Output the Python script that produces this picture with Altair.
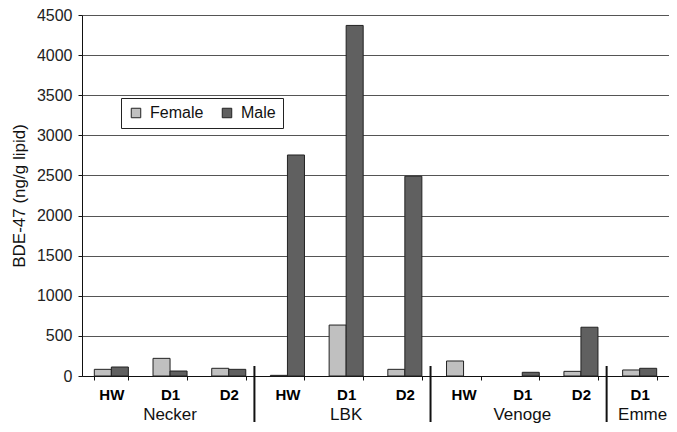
import altair as alt
import pandas as pd

# ---- data ----
groups = ["Necker", "Necker", "Necker", "LBK", "LBK", "LBK", "Venoge", "Venoge", "Venoge", "Emme"]
sites = ["HW", "D1", "D2", "HW", "D1", "D2", "HW", "D1", "D2", "D1"]
female = [83, 220, 96, 8, 635, 83, 187, None, 58, 75]
male = [112, 62, 83, 2755, 4370, 2490, None, 46, 608, 96]
sexes = ["Female", "Male"]
sex_colors = ["#c0c0c0", "#606060"]
group_names = ["Necker", "LBK", "Venoge", "Emme"]
group_label_site = ["D1", "D1", "D1", "D1"]
separator_before = ["LBK|HW", "Venoge|HW", "Emme|D1"]
y_ticks = [0, 500, 1000, 1500, 2000, 2500, 3000, 3500, 4000, 4500]

cats = [f"{g}|{s}" for g, s in zip(groups, sites)]
rows = []
for c, f, m in zip(cats, female, male):
    rows.append({"cat": c, "sex": "Female", "value": f})
    rows.append({"cat": c, "sex": "Male", "value": m})
bars_df = pd.DataFrame(rows)
glab_df = pd.DataFrame({"cat": [f"{g}|{s}" for g, s in zip(group_names, group_label_site)],
                        "name": group_names})
sep_df = pd.DataFrame({"cat": separator_before})

FONT = "Liberation Sans"
W, H = 587, 361

xscale = alt.Scale(domain=cats, paddingInner=0.42, paddingOuter=0.21)

bars = alt.Chart(bars_df).mark_bar(stroke="#222", strokeWidth=1).encode(
    x=alt.X("cat:N", scale=xscale, sort=cats,
            axis=alt.Axis(title=None, labelExpr="split(datum.label, '|')[1]",
                          labelFont=FONT, labelFontSize=15, labelFontWeight="bold",
                          labelColor="#000", labelAngle=0, labelPadding=7,
                          tickBand="extent", tickSize=4, tickColor="#111",
                          domainColor="#111", grid=False)),
    xOffset=alt.XOffset("sex:N", sort=sexes,
                        scale=alt.Scale(paddingInner=0, paddingOuter=0)),
    y=alt.Y("value:Q", scale=alt.Scale(domain=[0, 4500], nice=False),
            axis=alt.Axis(title="BDE-47 (ng/g lipid)", values=y_ticks, format="d",
                          titleFont=FONT, titleFontSize=17, titleFontWeight="normal",
                          titleColor="#111", titleAngle=270, titleAlign="center",
                          titleBaseline="middle", titleX=-63, titleY=H / 2,
                          labelFont=FONT, labelFontSize=16, labelColor="#222",
                          tickSize=4, tickColor="#111", domainColor="#111",
                          labelPadding=6, grid=True, gridColor="#555", gridWidth=1)),
    color=alt.Color("sex:N", sort=sexes,
                    scale=alt.Scale(domain=sexes, range=sex_colors),
                    legend=alt.Legend(title=None, orient="none", legendX=39, legendY=83,
                                      direction="horizontal", fillColor="white",
                                      strokeColor="#222", padding=7,
                                      symbolType="square", symbolSize=90,
                                      symbolStrokeColor="#222", symbolStrokeWidth=1,
                                      labelFont=FONT, labelFontSize=16, labelColor="#111",
                                      labelOffset=6, columnPadding=15)),
)

seps = alt.Chart(sep_df).mark_rule(color="#111", strokeWidth=2, xOffset=-16).encode(
    x=alt.X("cat:N", scale=xscale, sort=cats, bandPosition=0),
    y=alt.value(H - 10),
    y2=alt.value(H + 46),
)

glabels = alt.Chart(glab_df).transform_filter(alt.datum.name != "Emme").mark_text(
    font=FONT, fontSize=17, color="#111", baseline="alphabetic", align="center").encode(
    x=alt.X("cat:N", scale=xscale, sort=cats),
    y=alt.value(H + 44),
    text="name:N",
)

glabel_last = alt.Chart(glab_df).transform_filter(alt.datum.name == "Emme").mark_text(
    font=FONT, fontSize=17, color="#111", baseline="alphabetic", align="center", dx=3).encode(
    x=alt.X("cat:N", scale=xscale, sort=cats),
    y=alt.value(H + 44),
    text="name:N",
)

chart = alt.layer(bars, seps, glabels, glabel_last).properties(
    width=W, height=H,
    autosize=alt.AutoSizeParams(type="none"),
    padding={"left": 74, "top": 7, "right": 0, "bottom": 48},
).configure_view(stroke=None).configure(background="white")

chart.save("out.html", embed_options={"renderer": "svg", "actions": False})
